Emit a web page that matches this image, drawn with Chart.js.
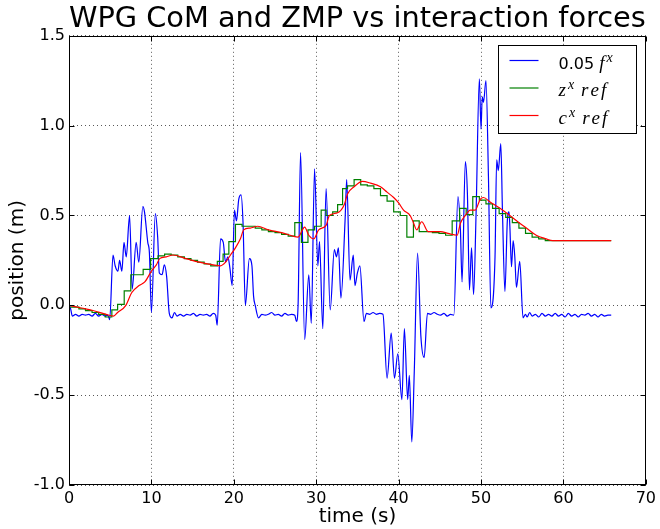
<!DOCTYPE html>
<html>
<head>
<meta charset="utf-8">
<script src="https://cdn.jsdelivr.net/npm/chart.js@4.4.1/dist/chart.umd.min.js"></script>
<style>
  body { margin: 0; background: #fff; }
</style>
</head>
<body>
<canvas id="chartWPG" width="660" height="529"></canvas>
<script>
// 0.05 f^x (interaction force, scaled)
const forceT = [0, 0.2, 0.4, 0.8, 1.2, 1.6, 2.0, 2.4, 2.8, 3.2, 3.6, 4.0, 4.4, 4.7, 4.94,
  5.34, 5.6, 5.94, 6.14, 6.42, 6.67, 6.95, 7.35, 7.67, 8.15, 8.47, 8.96, 9.16, 9.56, 9.76, 10.0,
  10.48, 10.76, 10.96, 11.29, 11.57, 11.85, 12.17, 12.5, 12.8, 13.1, 13.5, 13.9, 14.3, 14.7, 15.1,
  15.5, 15.9, 16.3, 16.7, 17.1, 17.5, 17.8, 17.99, 18.39, 18.72, 19.0, 19.28, 19.52, 19.8, 20.08,
  20.32, 20.6, 20.88, 21.12, 21.4, 21.89, 22.2, 22.4, 22.6, 23.0, 23.4, 23.8, 24.2, 24.6, 25.0,
  25.4, 25.8, 26.2, 26.6, 27.0, 27.4, 27.6, 27.8, 28.1, 28.6, 29.1, 29.4, 29.8, 30.2, 30.4, 30.8,
  31.2, 31.7, 32.2, 32.45, 32.7, 33.0, 33.5, 33.7, 34.1, 34.5, 34.7, 35.0, 35.3, 35.8, 36.1, 36.5,
  36.9, 37.3, 37.7, 38.1, 38.6, 39.1, 39.5, 39.9, 40.4, 40.7, 41.1, 41.3, 41.6, 41.9, 42.3, 42.7,
  43.1, 43.5, 43.9, 44.3, 44.7, 45.1, 45.5, 45.9, 46.3, 46.7, 47.2, 47.5, 47.7, 48.1, 48.35, 48.6,
  48.85, 49.1, 49.4, 49.8, 50.0, 50.15, 50.3, 50.6, 50.9, 51.2, 51.7, 51.9, 52.1, 52.4, 52.6, 52.9,
  53.2, 53.4, 53.5, 53.7, 53.9, 54.1, 54.3, 54.7, 55.1, 55.4, 55.6, 55.9, 56.2, 56.6, 57.0, 57.4,
  57.8, 58.2, 58.6, 59.0, 59.4, 59.8, 60.2, 60.6, 61.0, 61.4, 61.8, 62.2, 62.6, 63.0, 63.4, 63.8,
  64.2, 64.6, 65.0, 65.4, 65.8];
const forceV = [0.0, -0.02, -0.06, -0.05, -0.06, -0.05, -0.055, -0.05, -0.06, -0.045, -0.06, -0.05, -0.06, -0.055, -0.08,
  0.28, 0.22, 0.19, 0.25, 0.19, 0.35, 0.27, 0.50, 0.09, 0.35, 0.24, 0.55, 0.52, 0.35, 0.29, -0.04,
  0.51, 0.38, 0.18, 0.17, 0.225, 0.16, -0.045, -0.07, -0.04, -0.06, -0.05, -0.06, -0.05, -0.055, -0.045,
  -0.06, -0.05, -0.055, -0.05, -0.06, -0.045, -0.055, -0.11, 0.37, 0.35, 0.24, 0.27, 0.21, 0.11, 0.53,
  0.47, 0.59, 0.615, 0.46, 0.0, 0.26, 0.22, 0.05, 0.0, -0.07, -0.05, -0.055, -0.05, -0.04, -0.055,
  -0.05, -0.06, -0.045, -0.055, -0.05, -0.055, -0.09, 0.0, 0.85, -0.19, 0.17, -0.1, 0.76, 0.22, 0.355, -0.13,
  0.65, -0.025, 0.31, 0.27, 0.32, 0.04, 0.47, 0.70, 0.14, 0.28, 0.11, 0.18, 0.22, -0.09, -0.045, -0.05,
  -0.04, -0.05, -0.045, -0.05, -0.405, -0.155, -0.405, -0.27, -0.525, -0.13, -0.525, -0.39, -0.76, -0.37, 0.29, -0.17,
  -0.29, -0.045, -0.05, -0.04, -0.05, -0.055, -0.045, -0.06, -0.05, -0.055, 0.605, 0.42, 0.13, 0.80, 0.62, 0.086,
  0.32, 0.06, 0.51, 1.26, 0.98, 1.16, 1.13, 1.25, 0.72, -0.015, 0.27, 0.81, 0.75, 0.90, 0.53, 0.077,
  0.475, 0.52, 0.44, 0.215, 0.36, 0.27, 0.10, 0.245, -0.07, -0.05, -0.065, -0.04, -0.06, -0.05, -0.065, -0.045,
  -0.06, -0.05, -0.06, -0.045, -0.06, -0.05, -0.065, -0.045, -0.06, -0.05, -0.065, -0.05, -0.055, -0.045, -0.06, -0.05,
  -0.065, -0.05, -0.06, -0.055, -0.055];

// z^x ref (ZMP reference, piecewise constant)
const zmpT = [0, 1.2, 2.0, 2.8, 3.6, 4.4, 5.2, 5.9, 6.7, 7.5, 9.0, 9.9, 10.8, 11.6, 12.4, 13.2,
  14.0, 14.8, 15.6, 16.4, 17.2, 18.0, 18.7, 19.4, 20.2, 21.0, 21.8, 22.6, 23.4, 24.2, 25.0, 25.8,
  26.6, 27.4, 28.2, 29.0, 29.8, 30.6, 31.2, 32.0, 32.6, 33.2, 33.8, 34.6, 35.4, 36.2, 37.0, 37.8,
  38.6, 39.4, 40.2, 41.0, 41.8, 42.5, 43.3, 44.1, 44.9, 45.7, 46.5, 47.4, 48.2, 49.0, 49.8, 50.6,
  51.4, 52.2, 53.0, 53.8, 54.6, 55.4, 56.2, 57.0, 57.8, 58.6, 65.8];
const zmpV = [0.0, -0.01, -0.02, -0.03, -0.04, -0.05, -0.065, -0.025, 0.005, 0.08, 0.17, 0.20, 0.26, 0.275, 0.285, 0.28,
  0.27, 0.26, 0.25, 0.24, 0.23, 0.22, 0.245, 0.285, 0.355, 0.45, 0.44, 0.44, 0.43, 0.42, 0.41, 0.405,
  0.395, 0.385, 0.46, 0.35, 0.42, 0.44, 0.53, 0.50, 0.52, 0.56, 0.65, 0.665, 0.70, 0.67, 0.665, 0.65,
  0.61, 0.58, 0.52, 0.50, 0.38, 0.47, 0.41, 0.41, 0.405, 0.40, 0.39, 0.47, 0.54, 0.505, 0.605, 0.585,
  0.565, 0.54, 0.51, 0.49, 0.46, 0.43, 0.40, 0.38, 0.37, 0.36, 0.36];

// c^x ref (CoM reference)
const comT = [0, 1.5, 3.0, 4.5, 5.4, 5.9, 6.9, 7.6, 8.5, 9.2, 10.0, 10.6, 11.0, 11.8, 12.6, 14.2, 15.8,
  17.5, 18.4, 19.0, 19.6, 20.2, 20.8, 21.2, 22.0, 22.9, 24.2, 25.8, 27.8, 28.6, 29.1, 29.7, 30.3,
  31.2, 31.6, 32.6, 33.4, 33.8, 34.6, 35.6, 36.6, 37.8, 38.6, 39.4, 40.0, 40.6, 41.4, 41.8, 42.2,
  42.8, 43.6, 45.1, 46.0, 47.1, 47.5, 48.1, 48.7, 49.3, 49.9, 50.3, 51.1, 52.3, 53.5, 54.7, 55.5,
  56.7, 57.9, 58.7, 65.8];
const comV = [0.0, -0.015, -0.03, -0.05, -0.06, -0.04, 0.0, 0.07, 0.11, 0.13, 0.19, 0.225, 0.26, 0.27, 0.28, 0.26, 0.24,
  0.225, 0.22, 0.24, 0.28, 0.32, 0.37, 0.42, 0.43, 0.44, 0.42, 0.405, 0.38, 0.435, 0.39, 0.37, 0.42,
  0.445, 0.50, 0.515, 0.56, 0.62, 0.66, 0.69, 0.68, 0.66, 0.63, 0.60, 0.57, 0.53, 0.50, 0.46, 0.42,
  0.465, 0.41, 0.41, 0.40, 0.39, 0.457, 0.50, 0.53, 0.53, 0.59, 0.60, 0.575, 0.54, 0.50, 0.457, 0.43,
  0.39, 0.37, 0.36, 0.36];

const seriesLabels = ['0.05 $f^x$', '$z^x ref$', '$c^x ref$'];
const seriesColors = ['#0000ff', '#008000', '#ff0000'];
const xTicks = [0, 10, 20, 30, 40, 50, 60, 70];
const yTicks = [-1.0, -0.5, 0.0, 0.5, 1.0, 1.5];

function toPoints(ts, vs) {
  return ts.map((t, i) => ({ x: t, y: vs[i] }));
}

// draws "0.05 $f^x$"-style labels: plain text in sans, $...$ in italic serif with ^ superscripts
function drawMathLabel(ctx, text, x, y) {
  text.split('$').forEach((part, i) => {
    if (i % 2 === 0) {
      ctx.font = '16px "DejaVu Sans"';
      ctx.fillText(part, x, y);
      x += ctx.measureText(part).width;
      return;
    }
    for (let k = 0; k < part.length; k++) {
      const ch = part[k];
      if (ch === '^') {
        const sup = part[++k];
        ctx.font = 'italic 14px "Liberation Serif"';
        ctx.fillText(sup, x, y - 7);
        x += ctx.measureText(sup).width + 3;
      } else if (ch === ' ') {
        x += 4;
      } else {
        ctx.font = 'italic 19px "Liberation Serif"';
        ctx.fillText(ch, x, y);
        x += ctx.measureText(ch).width + 2;
      }
    }
  });
}

const framePlugin = {
  id: 'frame',
  afterDatasetsDraw(chart) {
    const { ctx, chartArea: a, scales } = chart;
    ctx.save();
    ctx.strokeStyle = '#000';
    ctx.lineWidth = 1;
    const L = Math.round(a.left) + 0.5, R = Math.round(a.right) - 0.5;
    const T = Math.round(a.top) + 0.5, B = Math.round(a.bottom) - 0.5;
    ctx.strokeRect(L, T, R - L, B - T);
    // inward tick marks on all four sides
    ctx.beginPath();
    xTicks.forEach(v => {
      const px = Math.round(scales.x.getPixelForValue(v)) + 0.5;
      ctx.moveTo(px, B); ctx.lineTo(px, B - 5);
      ctx.moveTo(px, T); ctx.lineTo(px, T + 5);
    });
    yTicks.forEach(v => {
      const py = Math.round(scales.y.getPixelForValue(v)) + 0.5;
      ctx.moveTo(L, py); ctx.lineTo(L + 5, py);
      ctx.moveTo(R, py); ctx.lineTo(R - 5, py);
    });
    ctx.stroke();
    ctx.restore();
  },
  afterDraw(chart) {
    const { ctx, chartArea: a } = chart;
    const w = 138, h = 88;
    const x0 = Math.round(a.right - 10 - w) + 0.5, y0 = Math.round(a.top + 9) + 0.5;
    ctx.save();
    ctx.fillStyle = '#fff';
    ctx.fillRect(x0, y0, w, h);
    ctx.strokeStyle = '#000';
    ctx.lineWidth = 1;
    ctx.strokeRect(x0, y0, w, h);
    ctx.textBaseline = 'alphabetic';
    ctx.textAlign = 'left';
    seriesLabels.forEach((label, i) => {
      const rowY = y0 + 15 + i * 27.5;
      ctx.strokeStyle = seriesColors[i];
      ctx.lineWidth = 1.2;
      ctx.beginPath();
      ctx.moveTo(x0 + 11, rowY);
      ctx.lineTo(x0 + 40, rowY);
      ctx.stroke();
      ctx.fillStyle = '#000';
      drawMathLabel(ctx, label, x0 + 60, rowY + 8);
    });
    ctx.restore();
  }
};

const ctxWPG = document.getElementById('chartWPG').getContext('2d');

const chartWPG = new Chart(ctxWPG, {
  type: 'line',
  data: {
    datasets: [
      { label: seriesLabels[0], data: toPoints(forceT, forceV), borderColor: seriesColors[0],
        borderWidth: 1.2, cubicInterpolationMode: 'monotone', order: 3 },
      { label: seriesLabels[1], data: toPoints(zmpT, zmpV), borderColor: seriesColors[1],
        borderWidth: 1.2, stepped: 'after', order: 2 },
      { label: seriesLabels[2], data: toPoints(comT, comV), borderColor: seriesColors[2],
        borderWidth: 1.2, cubicInterpolationMode: 'monotone', order: 1 }
    ]
  },
  options: {
    responsive: false,
    animation: false,
    layout: { padding: { left: 0, right: 10, top: 0, bottom: 0 } },
    elements: { point: { radius: 0 } },
    plugins: {
      legend: { display: false },
      tooltip: { enabled: false },
      title: {
        display: true,
        fullSize: false,
        text: 'WPG CoM and ZMP vs interaction forces',
        color: '#000',
        font: { family: 'DejaVu Sans', size: 28.8, weight: 'normal', lineHeight: 1 },
        padding: { top: 5, bottom: 2 }
      }
    },
    scales: {
      x: {
        type: 'linear',
        min: 0, max: 70,
        afterFit(scale) { scale.height = 44; },
        afterBuildTicks(scale) { scale.ticks = xTicks.map(v => ({ value: v })); },
        ticks: { color: '#000', padding: 4, autoSkip: false, maxRotation: 0,
                 font: { family: 'DejaVu Sans', size: 16 } },
        grid: { color: 'rgba(0,0,0,0.65)', lineWidth: 1, drawTicks: false },
        border: { display: false, dash: [1, 3] },
        title: { display: true, text: 'time (s)', color: '#000', padding: { top: 0, bottom: 0 },
                 font: { family: 'DejaVu Sans', size: 20 } }
      },
      y: {
        type: 'linear',
        min: -1.0, max: 1.5,
        afterFit(scale) { scale.width = 69; },
        afterBuildTicks(scale) { scale.ticks = yTicks.map(v => ({ value: v })); },
        ticks: { color: '#000', padding: 4, font: { family: 'DejaVu Sans', size: 16 },
                 callback: v => v.toFixed(1) },
        grid: { color: 'rgba(0,0,0,0.65)', lineWidth: 1, drawTicks: false },
        border: { display: false, dash: [1, 3] },
        title: { display: true, text: 'position (m)', color: '#000', padding: { top: 6, bottom: 0 },
                 font: { family: 'DejaVu Sans', size: 20 } }
      }
    }
  },
  plugins: [framePlugin]
});
</script>
</body>
</html>
